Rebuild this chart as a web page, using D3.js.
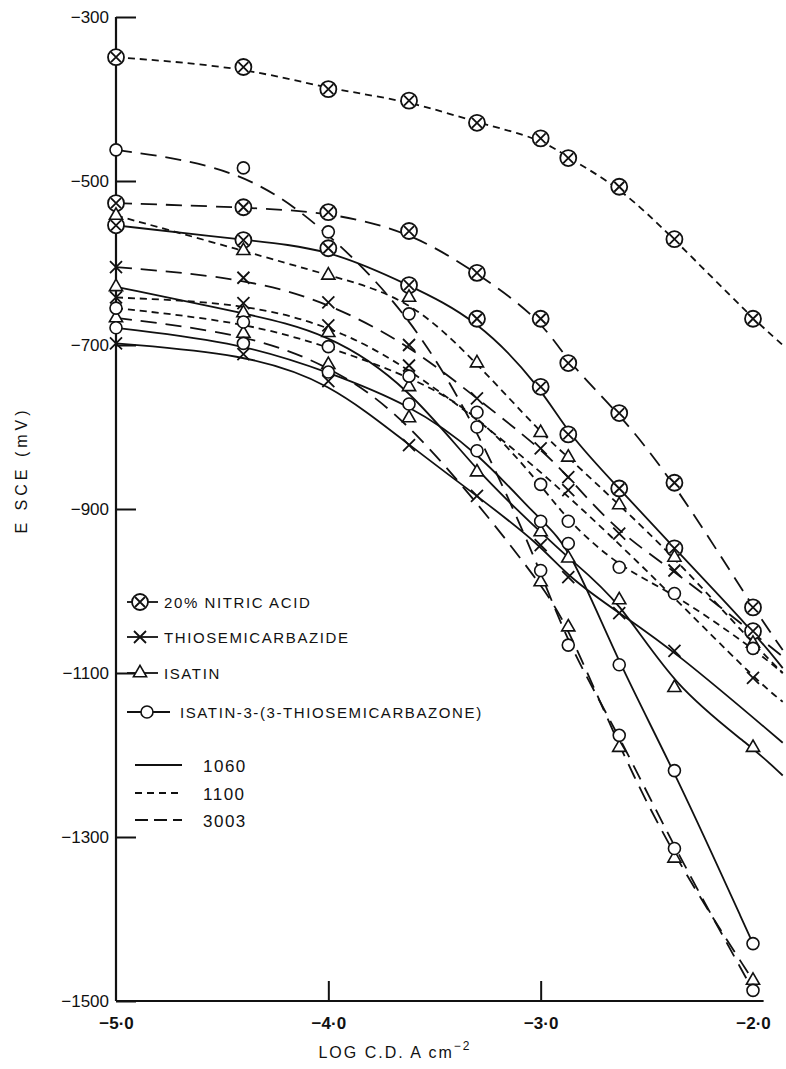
<!DOCTYPE html>
<html>
<head>
<meta charset="utf-8">
<script src="https://cdn.jsdelivr.net/npm/d3@7"></script>
<style>
  body { margin: 0; background: #fff; }
  text { font-family: "Liberation Sans", "DejaVu Sans", sans-serif; fill: #111; }
</style>
</head>
<body>
<div id="chart"></div>
<script>
// log current density (last value = where the drawn curve stops, no marker)
const logCD = [-5, -4.4, -4, -3.62, -3.3, -3, -2.87, -2.63, -2.37, -2, -1.86];

// E SCE (mV), one array per inhibitor / alloy
const nitric1060 = [-554, -572, -582, -627, -668, -751, -809, -875, -948, -1049, -1094];
const nitric1100 = [-349, -361, -388, -402, -429, -448, -472, -507, -571, -668, -700];
const nitric3003 = [-527, -532, -538, -561, -612, -668, -722, -783, -868, -1020, -1072];

const thio1060 = [-698, -711, -744, -822, -884, -944, -983, -1027, -1073, null, -1185];
const thio1100 = [-642, -649, -676, -725, null, null, -877, null, null, -1106, -1135];
const thio3003 = [-605, -618, -648, -700, -765, -826, -861, -930, -975, null, -1080];

const isatin1060 = [-629, -661, -685, -751, -855, -928, -960, -1011, -1118, -1191, -1225];
const isatin1100 = [-542, -585, -615, -642, -722, -807, -837, -895, -959, -1064, -1100];
const isatin3003 = [-667, -686, -724, -789, null, -989, -1044, -1191, -1326, -1475, null];

const ist1060 = [-679, -698, -733, -772, -829, -915, -942, -1090, -1219, -1430, null];
const ist1100 = [-655, -672, -702, -738, -782, -870, -915, -971, -1003, -1070, -1100];
const ist3003 = [-462, -484, -562, -662, -800, -975, -1066, -1176, -1314, -1487, null];

const yTicks = [-300, -500, -700, -900, -1100, -1300, -1500];
const xTicks = [-5, -4, -3, -2];

const legendNames = ["20% NITRIC ACID", "THIOSEMICARBAZIDE", "ISATIN", "ISATIN-3-(3-THIOSEMICARBAZONE)"];
const alloys = ["1060", "1100", "3003"];

const series = [
  {m: "nitric", alloy: "1100", v: nitric1100},
  {m: "nitric", alloy: "3003", v: nitric3003},
  {m: "nitric", alloy: "1060", v: nitric1060},
  {m: "thio", alloy: "1060", v: thio1060},
  {m: "thio", alloy: "1100", v: thio1100},
  {m: "thio", alloy: "3003", v: thio3003},
  {m: "isatin", alloy: "1060", v: isatin1060},
  {m: "isatin", alloy: "1100", v: isatin1100},
  {m: "isatin", alloy: "3003", v: isatin3003},
  {m: "ist", alloy: "1060", v: ist1060},
  {m: "ist", alloy: "1100", v: ist1100},
  {m: "ist", alloy: "3003", v: ist3003}
];

const dash = {"1060": null, "1100": "7,5", "3003": "16,9"};

const W = 786, H = 1069;
const svg = d3.select("#chart").append("svg")
  .attr("width", W).attr("height", H)
  .style("background", "#fff");

const x = d3.scaleLinear().domain([-5, -2]).range([116, 753]);
const y = d3.scaleLinear().domain([-300, -1500]).range([17, 1001]);

// axes
const yAxis = d3.axisLeft(y).tickValues(yTicks).tickSizeInner(-20).tickSizeOuter(0).tickPadding(7)
  .tickFormat(d => "\u2212" + Math.abs(d));
const gy = svg.append("g").attr("transform", `translate(${x(-5)},0)`).call(yAxis);
gy.select(".domain").remove();
gy.selectAll("line").attr("stroke", "#111").attr("stroke-width", 2);
gy.selectAll("text").style("font-size", "17px").style("font-family", "Liberation Sans, sans-serif");

const xAxis = d3.axisBottom(x).tickValues(xTicks).tickSizeInner(-20).tickSizeOuter(0).tickPadding(16)
  .tickFormat(d => "\u2212" + Math.abs(d).toFixed(1).replace(".", "\u00b7"));
const gx = svg.append("g").attr("transform", `translate(0,${y(-1500)})`).call(xAxis);
gx.select(".domain").remove();
gx.selectAll(".tick line").attr("stroke", "#111").attr("stroke-width", 2)
  .filter(d => d === -5 || d === -2).remove();
gx.selectAll("text").style("font-size", "17px").style("font-weight", "bold")
  .style("font-family", "Liberation Sans, sans-serif");

svg.append("line").attr("x1", x(-5)).attr("x2", x(-5)).attr("y1", y(-300)).attr("y2", y(-1500))
  .attr("stroke", "#111").attr("stroke-width", 2.2);
svg.append("line").attr("x1", x(-5)).attr("x2", x(-1.95)).attr("y1", y(-1500)).attr("y2", y(-1500))
  .attr("stroke", "#111").attr("stroke-width", 2.2);

svg.append("text").attr("transform", `translate(27,470) rotate(-90)`)
  .attr("text-anchor", "middle").style("font-size", "16px").style("letter-spacing", "4px")
  .text("E  SCE  (mV)");

const xl = svg.append("text").attr("x", 395).attr("y", 1058).attr("text-anchor", "middle")
  .style("font-size", "16px").style("letter-spacing", "2px");
xl.append("tspan").text("LOG  C.D.  A cm");
xl.append("tspan").attr("dy", -8).style("font-size", "12px").text("\u22122");

// curves (smooth hand-fitted look)
const line = d3.line().x(d => x(d[0])).y(d => y(d[1])).curve(d3.curveBasis);
const plot = svg.append("g");
series.forEach(s => {
  const pts = logCD.map((c, i) => [c, s.v[i]]).filter(p => p[1] !== null);
  plot.append("path").attr("d", line(pts))
    .attr("fill", "none").attr("stroke", "#111").attr("stroke-width", 1.8)
    .attr("stroke-dasharray", dash[s.alloy]);
});

function marker(g, m) {
  if (m === "nitric") {
    g.append("circle").attr("r", 8).attr("fill", "#fff").attr("stroke", "#111").attr("stroke-width", 1.8);
    g.append("path").attr("d", "M-5,-5L5,5M-5,5L5,-5").attr("stroke", "#111").attr("stroke-width", 1.8);
  } else if (m === "thio") {
    g.append("path").attr("d", "M-6,-6L6,6M-6,6L6,-6").attr("stroke", "#111").attr("stroke-width", 1.8);
  } else if (m === "isatin") {
    g.append("path").attr("d", d3.symbol(d3.symbolTriangle).size(75)())
      .attr("fill", "#fff").attr("stroke", "#111").attr("stroke-width", 1.6);
  } else {
    g.append("circle").attr("r", 6).attr("fill", "#fff").attr("stroke", "#111").attr("stroke-width", 1.6);
  }
}

series.forEach(s => {
  logCD.forEach((c, i) => {
    if (i === logCD.length - 1 || s.v[i] === null) return;
    const g = plot.append("g").attr("transform", `translate(${x(c)},${y(s.v[i])})`);
    marker(g, s.m);
  });
});

// legend
const legM = ["nitric", "thio", "isatin", "ist"];
const legY = [602, 637, 673, 712];
legM.forEach((m, i) => {
  const x0 = 127, x1 = i === 3 ? 170 : 158, mx = i === 3 ? 147 : 140;
  svg.append("line").attr("x1", x0).attr("x2", x1).attr("y1", legY[i]).attr("y2", legY[i])
    .attr("stroke", "#111").attr("stroke-width", 1.8);
  marker(svg.append("g").attr("transform", `translate(${mx},${legY[i]})`), m);
  svg.append("text").attr("x", i === 3 ? 180 : 164).attr("y", legY[i] + 6)
    .style("font-size", "15px").style("letter-spacing", "1.6px").text(legendNames[i]);
});
const legAy = [765, 793, 820];
alloys.forEach((a, i) => {
  svg.append("line").attr("x1", 135).attr("x2", 182).attr("y1", legAy[i]).attr("y2", legAy[i])
    .attr("stroke", "#111").attr("stroke-width", 1.8).attr("stroke-dasharray", a === "1100" ? "7,5" : a === "3003" ? "13,6" : null);
  svg.append("text").attr("x", 203).attr("y", legAy[i] + 7)
    .style("font-size", "17px").style("letter-spacing", "1.5px").text(a);
});
</script>
</body>
</html>
